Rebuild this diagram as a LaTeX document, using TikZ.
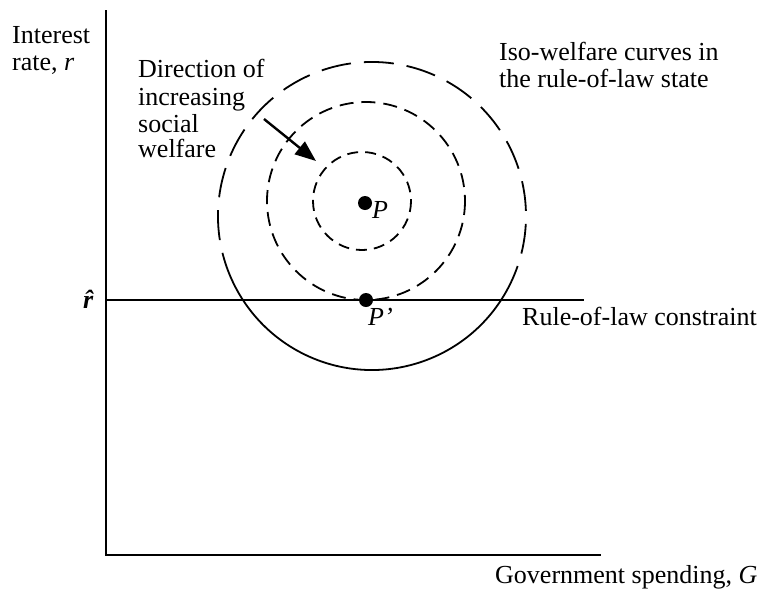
\documentclass[tikz,border=0pt]{standalone}
\usepackage{fontspec}
\setmainfont{Liberation Serif}
\usetikzlibrary{arrows.meta}
\begin{document}
\begin{tikzpicture}[x=1pt,y=-1pt,
  lbl/.style={font=\fontsize{26}{27}\selectfont, inner sep=0pt, anchor=base west},
  axis/.style={line width=2pt},
  curve/.style={line width=1.8pt},
  dotp/.style={circle, fill=black, inner sep=0pt, minimum size=14pt}]
\useasboundingbox (0,0) rectangle (768,600);
% axes
\coordinate (ytop) at (106,10);
\coordinate (O) at (106,555);
\coordinate (xend) at (601,555);
\draw[axis] (ytop) -- (O) -- (xend);
% constraint line
\coordinate (cl) at (106,300);
\coordinate (cr) at (584,300);
\draw[axis] (cl) -- (cr);
% circles
\coordinate (c1) at (362,201);
\coordinate (c2) at (366,201);
\coordinate (c3) at (372,216);
\draw[curve, dash pattern=on 11pt off 7pt] (c1) circle[radius=49];
\draw[curve, dash pattern=on 14pt off 8pt] (c2) circle[radius=99];
\draw[curve, dash pattern=on 30pt off 13pt] (c3) ++(155:154) arc[start angle=155, end angle=385, radius=154];
\draw[curve] (c3) ++(25:154) arc[start angle=25, end angle=155, radius=154];
% points
\node[dotp] (P) at (365,203) {};
\node[dotp] (Pp) at (366,300) {};
\node[lbl] (Plab) at (372,218) {\textit{P}};
\node[lbl] (Pplab) at (368,325) {\textit{P’}};
% arrow
\coordinate (as) at (264,119);
\coordinate (ae) at (316,161);
\draw[line width=2.4pt, -{Triangle[length=21pt,width=16pt]}] (as) -- (ae);
% labels
\node[lbl] (yl1) at (12,43) {Interest};
\node[lbl] (yl2) at (12,70) {rate, \textit{r}};
\node[lbl] (d1) at (138,77) {Direction of};
\node[lbl] (d2) at (138,105) {increasing};
\node[lbl] (d3) at (138,132) {social};
\node[lbl] (d4) at (138,157) {welfare};
\node[lbl] (i1) at (499,60) {Iso-welfare curves in};
\node[lbl] (i2) at (499,87) {the rule-of-law state};
\node[lbl] (rhat) at (83,308) {\textbf{\textit{\^{r}}}};
\node[lbl] (rol) at (522,325) {Rule-of-law constraint};
\node[lbl] (xl) at (495,583) {Government spending, \textit{G}};
\end{tikzpicture}
\end{document}
